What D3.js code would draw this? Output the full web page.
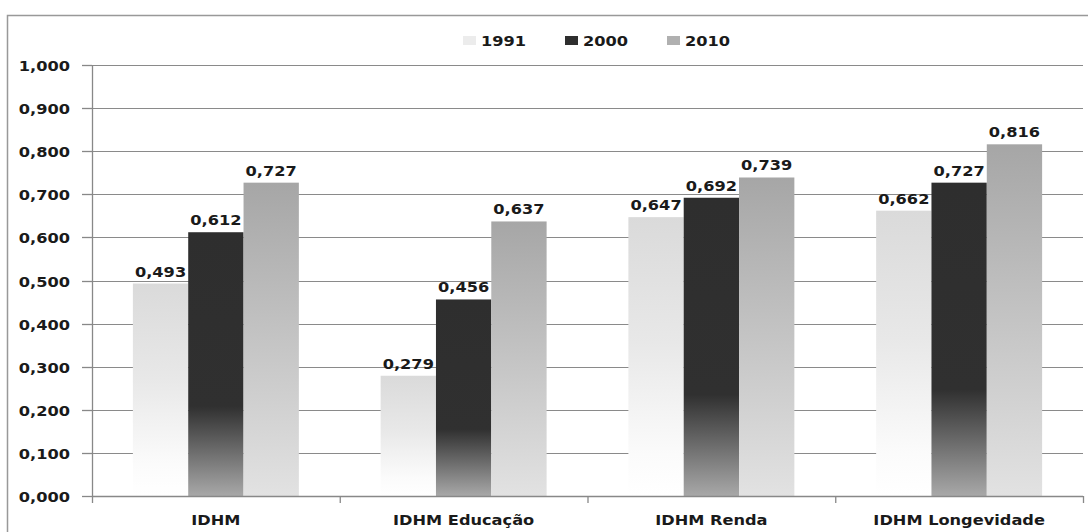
<!DOCTYPE html>
<html><head><meta charset="utf-8">
<script src="https://cdn.jsdelivr.net/npm/d3@7"></script>
<style>
body{margin:0;background:#fff;}
text{font-family:"DejaVu Sans",Verdana,sans-serif;font-weight:bold;fill:#1a1a1a;}
</style></head>
<body><svg id="c" width="1088" height="532"></svg>
<script>
const categories = ["IDHM", "IDHM Educação", "IDHM Renda", "IDHM Longevidade"];
const years = ["1991", "2000", "2010"];
const v1991 = [0.493, 0.279, 0.647, 0.662];
const v2000 = [0.612, 0.456, 0.692, 0.727];
const v2010 = [0.727, 0.637, 0.739, 0.816];
const yTicks = [0, 0.1, 0.2, 0.3, 0.4, 0.5, 0.6, 0.7, 0.8, 0.9, 1.0];

const series = {"1991": v1991, "2000": v2000, "2010": v2010};
const svg = d3.select("#c");
const fs = 13.5, sx = 1.2;
const fmt = v => d3.format(".3f")(v).replace(".", ",");

// outer border
svg.append("rect").attr("x", 7.5).attr("y", 15.5).attr("width", 1100).attr("height", 600)
  .attr("fill", "none").attr("stroke", "#999").attr("stroke-width", 1.5);

const defs = svg.append("defs");
function grad(id, stops) {
  const g = defs.append("linearGradient").attr("id", id).attr("x1", 0).attr("y1", 0).attr("x2", 0).attr("y2", 1);
  stops.forEach(s => g.append("stop").attr("offset", s[0]).attr("stop-color", s[1]));
}
grad("g1991", [[0, "#dadada"], [0.45, "#e8e8e8"], [0.85, "#fbfbfb"], [1, "#ffffff"]]);
grad("g2000", [[0, "#2e2e2e"], [0.66, "#303030"], [1, "#a8a8a8"]]);
grad("g2010", [[0, "#a6a6a6"], [1, "#e2e2e2"]]);
const fills = {"1991": "url(#g1991)", "2000": "url(#g2000)", "2010": "url(#g2010)"};

const y = d3.scaleLinear().domain([0, 1]).range([496, 65]);
const x0 = d3.scaleBand().domain(categories).range([92, 1083]).padding(0);
const x1 = d3.scaleBand().domain(years).range([0, x0.bandwidth()]).paddingInner(0).paddingOuter(0.739);

function label(g, x, yy, txt, anchor) {
  const t = g.append("text").attr("transform", `translate(${x},${yy}) scale(${sx},1)`)
    .attr("font-size", fs).attr("text-anchor", anchor || "middle").text(txt);
  return t;
}

// gridlines
svg.append("g").selectAll("line").data(yTicks.filter(d => d > 0)).join("line")
  .attr("x1", 92).attr("x2", 1083).attr("y1", d => Math.round(y(d)) + 0.5).attr("y2", d => Math.round(y(d)) + 0.5)
  .attr("stroke", "#8a8a8a").attr("stroke-width", 1.2);

// bars
const gb = svg.append("g");
categories.forEach((c, i) => {
  years.forEach(yr => {
    const v = series[yr][i];
    gb.append("rect").attr("x", x0(c) + x1(yr)).attr("y", y(v))
      .attr("width", x1.bandwidth()).attr("height", y(0) - y(v))
      .attr("fill", fills[yr]);
  });
});
// value labels
const gl = svg.append("g");
categories.forEach((c, i) => {
  years.forEach(yr => {
    const v = series[yr][i];
    label(gl, x0(c) + x1(yr) + x1.bandwidth() / 2, y(v) - 7, fmt(v));
  });
});

// y axis
const ga = svg.append("g");
ga.append("line").attr("x1", 92.5).attr("x2", 92.5).attr("y1", y(1)).attr("y2", y(0)).attr("stroke", "#888").attr("stroke-width", 1.3);
yTicks.forEach(t => {
  const yy = Math.round(y(t)) + 0.5;
  ga.append("line").attr("x1", 82).attr("x2", 92).attr("y1", yy).attr("y2", yy).attr("stroke", "#888").attr("stroke-width", 1.3);
  label(ga, 70, yy + 5, fmt(t), "end");
});
// x axis
ga.append("line").attr("x1", 92).attr("x2", 1083).attr("y1", y(0) + 0.5).attr("y2", y(0) + 0.5).attr("stroke", "#888").attr("stroke-width", 1.3);
const bounds = categories.map(c => x0(c)).concat([x0.range()[1]]);
bounds.forEach(b => {
  ga.append("line").attr("x1", b + 0.5).attr("x2", b + 0.5).attr("y1", y(0)).attr("y2", y(0) + 7).attr("stroke", "#888").attr("stroke-width", 1.3);
});
categories.forEach(c => label(ga, x0(c) + x0.bandwidth() / 2, 525, c));

// legend
const lg = svg.append("g");
const legX = {"1991": 463, "2000": 565, "2010": 667};
const swFill = {"1991": "#ececec", "2000": "#2e2e2e", "2010": "#b0b0b0"};
years.forEach(yr => {
  lg.append("rect").attr("x", legX[yr]).attr("y", 36).attr("width", 13).attr("height", 9).attr("fill", swFill[yr]);
  label(lg, legX[yr] + 18, 46, yr, "start");
});
</script></body></html>
